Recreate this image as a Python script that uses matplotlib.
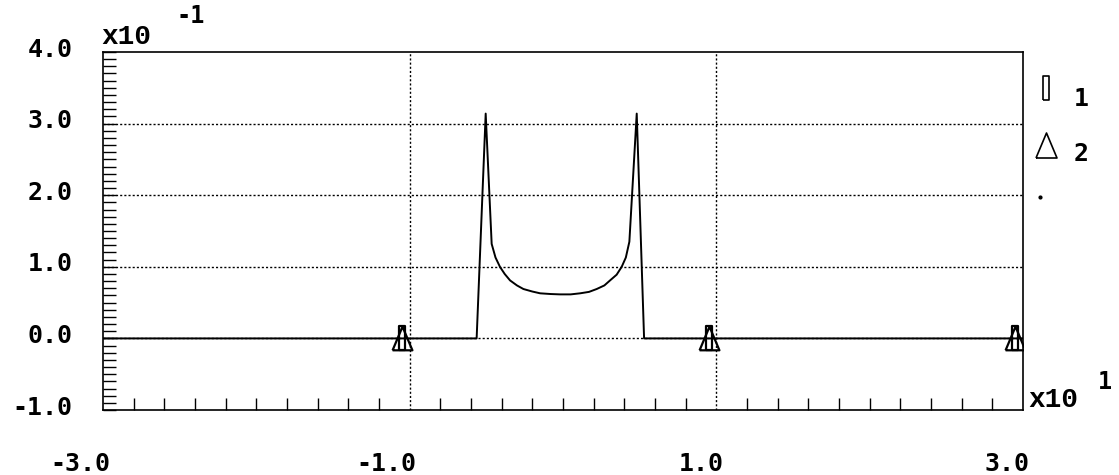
import matplotlib
matplotlib.use("Agg")
import matplotlib.pyplot as plt
import matplotlib.transforms as mtransforms
from matplotlib.path import Path
from matplotlib.ticker import MultipleLocator

# values shown in plot units (x in x10^1, y in x10^-1)
curve_x = [-3.0, -0.563, -0.504, -0.465, -0.44, -0.411, -0.38, -0.345, -0.30,
           -0.258, -0.20, -0.149, -0.08, -0.019, 0.05, 0.112, 0.17, 0.220,
           0.27, 0.307, 0.35, 0.383, 0.41, 0.433, 0.481, 0.529, 3.0]
curve_y = [0.0, 0.0, 3.14, 1.32, 1.13, 1.00, 0.90, 0.81, 0.74,
           0.69, 0.655, 0.63, 0.62, 0.615, 0.615, 0.63, 0.65, 0.69,
           0.74, 0.81, 0.89, 1.00, 1.13, 1.35, 3.14, 0.0, 0.0]

pts_x = [-1.05, 0.95, 2.95]
pts_y = [0.0, 0.0, 0.0]

xticks = [-3.0, -1.0, 1.0, 3.0]
xlabels = ["-3.0", "-1.0", "1.0", "3.0"]
yticks = [-1.0, 0.0, 1.0, 2.0, 3.0, 4.0]
ylabels = ["-1.0", "0.0", "1.0", "2.0", "3.0", "4.0"]
series_labels = ["1", "2"]

rect_mark = Path([(-0.11, -0.5), (0.11, -0.5), (0.11, 0.5), (-0.11, 0.5), (-0.11, -0.5)])
tri_mark = Path([(-0.42, -0.5), (0.42, -0.5), (0.0, 0.5), (-0.42, -0.5)])

fig = plt.figure(figsize=(11.19, 4.75), dpi=100)
ax = fig.add_axes([0.092, 0.1368, 0.8222, 0.7537])

ax.set_xlim(-3, 3)
ax.set_ylim(-1, 4)

for y in [0, 1, 2, 3]:
    ax.axhline(y, color="black", lw=1.0, ls=(0, (1.5, 1.5)), zorder=1)
for x in [-1, 1]:
    ax.axvline(x, color="black", lw=1.0, ls=(0, (1.5, 1.5)), zorder=1)

ax.plot(curve_x, curve_y, color="black", lw=1.4, zorder=3)
ax.plot(pts_x, pts_y, ls="none", marker=rect_mark, ms=17, mfc="none",
        mec="black", mew=1.6, zorder=4)
ax.plot(pts_x, pts_y, ls="none", marker=tri_mark, ms=17, mfc="none",
        mec="black", mew=1.6, zorder=4)

for sp in ax.spines.values():
    sp.set_linewidth(1.2)

ax.set_xticks(xticks)
ax.set_xticklabels(xlabels, ha="right")
ax.set_yticks(yticks)
ax.set_yticklabels(ylabels)
ax.xaxis.set_minor_locator(MultipleLocator(0.2))
ax.yaxis.set_minor_locator(MultipleLocator(0.1))

ax.tick_params(axis="x", which="major", length=0, pad=30)
ax.tick_params(axis="x", which="minor", direction="in", length=8.6, width=1.0)
ax.tick_params(axis="y", which="both", direction="in", length=9.4, width=1.0, pad=22)

fnt = dict(family="DejaVu Sans Mono", weight="bold", size=18)
for lab in ax.get_xticklabels():
    lab.set(**fnt)
    lab.set_transform(lab.get_transform() + mtransforms.ScaledTranslation(0.07, 0, fig.dpi_scale_trans))
for lab in ax.get_yticklabels():
    lab.set(**fnt)
    lab.set_transform(lab.get_transform() + mtransforms.ScaledTranslation(0, 0.05, fig.dpi_scale_trans))

# scale factors
xf = dict(family="Liberation Mono", weight="bold", size=20)
ef = dict(family="DejaVu Sans Mono", weight="bold", size=17)
fig.text(101 / 1119, 1 - 37 / 475, "x10", va="center", ha="left", **xf)
fig.text(176 / 1119, 1 - 16 / 475, "-1", va="center", ha="left", **ef)
fig.text(1028 / 1119, 1 - 400 / 475, "x10", va="center", ha="left", **xf)
fig.text(1098 / 1119, 1 - 382 / 475, "1", va="center", ha="left", **ef)

# legend
ax.plot([1.025], [0.899], transform=ax.transAxes, clip_on=False, ls="none",
        marker=rect_mark, ms=17, mfc="none", mec="black", mew=1.2)
ax.plot([1.025], [0.740], transform=ax.transAxes, clip_on=False, ls="none",
        marker=tri_mark, ms=18, mfc="none", mec="black", mew=1.2)
ax.plot([1.018], [0.595], transform=ax.transAxes, clip_on=False, ls="none",
        marker="o", ms=2, color="black")
ax.text(1.063, 0.869, series_labels[0], transform=ax.transAxes, va="center", ha="center", **fnt)
ax.text(1.063, 0.715, series_labels[1], transform=ax.transAxes, va="center", ha="center", **fnt)

fig.savefig("out.png", dpi=100)
